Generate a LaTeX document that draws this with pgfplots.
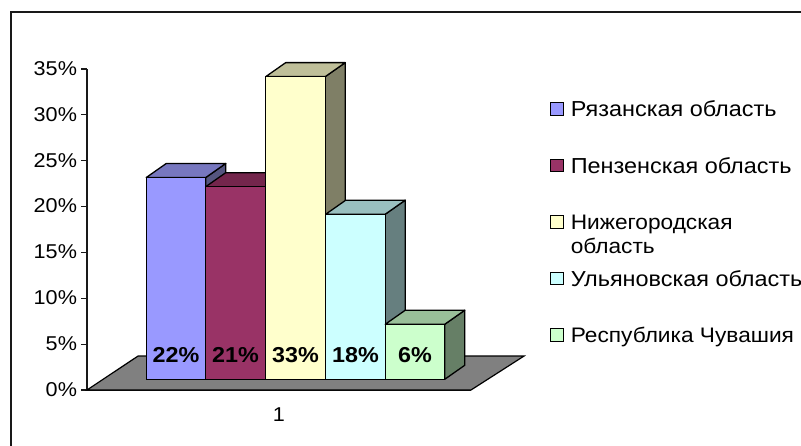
\documentclass[border=0pt]{standalone}
\usepackage{fontspec}
\setmainfont[FakeStretch=1.08]{Liberation Sans}
\usepackage{pgfplots}
\pgfplotsset{compat=1.18}

\definecolor{ryazF}{HTML}{9999FF}\definecolor{ryazT}{HTML}{7777BF}\definecolor{ryazS}{HTML}{55557F}
\definecolor{penzF}{HTML}{993366}\definecolor{penzT}{HTML}{74264C}\definecolor{penzS}{HTML}{4C1933}
\definecolor{nizhF}{HTML}{FFFFCC}\definecolor{nizhT}{HTML}{BFBF99}\definecolor{nizhS}{HTML}{7F7F66}
\definecolor{ulyaF}{HTML}{CCFFFF}\definecolor{ulyaT}{HTML}{99BFBF}\definecolor{ulyaS}{HTML}{667F7F}
\definecolor{chuvF}{HTML}{CCFFCC}\definecolor{chuvT}{HTML}{99BF99}\definecolor{chuvS}{HTML}{667F66}
\definecolor{floorgrey}{HTML}{808080}

\pgfplotsset{swatch/.style={legend image code/.code={%
  \draw[##1,line width=1.2pt] (0pt,-14pt) rectangle (12.5pt,-1.5pt);}}}

% One 3-D column: centre, value, colour stem. Columns stand 10.7pt above the axis line.
\newcommand{\column}[3]{%
  \pgfmathsetmacro\xl{#1-29.75}%
  \pgfmathsetmacro\xr{#1+29.75}%
  \pgfmathsetmacro\xlb{\xl+20}%
  \pgfmathsetmacro\xrb{\xr+20}%
  \pgfmathsetmacro\vb{#2+1.53}%
  \addplot[forget plot,yshift=10.7pt,draw=black,line width=1.3pt,fill=#3S,line join=round]
    coordinates {(\xr,0) (\xrb,1.53) (\xrb,\vb) (\xr,#2)} --cycle;
  \addplot[forget plot,yshift=10.7pt,draw=black,line width=1.3pt,fill=#3T,line join=round]
    coordinates {(\xl,#2) (\xr,#2) (\xrb,\vb) (\xlb,\vb)} --cycle;
  \addplot[ybar,swatch,bar width=59.5pt,yshift=10.7pt,draw=black,line width=1.3pt,fill=#3F]
    coordinates {(#1,#2)};
}

\begin{document}
\begin{tikzpicture}[x=1pt,y=1pt]
\useasboundingbox (0,0) rectangle (801,446);
\draw[line width=1.4pt,black!90] (801,434) -- (11,434) -- (11,0);
\begin{axis}[
  at={(87pt,56pt)},anchor=south west,
  scale only axis,width=384pt,height=321pt,
  xmin=87,xmax=471,ymin=0,ymax=35,
  clip=false,
  axis x line*=bottom,axis y line*=left,
  axis line style={line width=1.2pt,black!90},
  tick style={line width=1.2pt,black!90},
  major tick length=5.5pt,
  tick align=outside,
  ytick={0,5,10,15,20,25,30,35},
  yticklabels={0\%,5\%,10\%,15\%,20\%,25\%,30\%,35\%},
  xtick={279},xticklabels={1},
  x tick style={draw=none},
  extra x ticks={87,471},extra x tick labels={,},
  extra x tick style={tick style={line width=1.2pt,black!90,draw=black!90}},
  tick label style={font=\fontsize{20}{22}\selectfont},
  xticklabel style={yshift=-9pt},
  yticklabel style={xshift=-1pt,yshift=0.5pt},
  legend style={at={(axis description cs:1.206,0.897)},anchor=north west,draw=none,fill=none,
    inner sep=0pt,outer sep=0pt,
    font=\fontsize{21.7}{24}\selectfont,
    nodes={inner sep=0pt,text height=14pt,text depth=4pt,anchor=west},
    /tikz/row sep=37.7pt,/tikz/column sep=7pt},
  legend cell align=left,
]
% floor of the chart
\addplot[forget plot,fill=floorgrey,draw=black,line width=1.2pt]
  coordinates {(87,0) (471,0) (524,3.7) (138,3.7)} --cycle;

\column{176}{22}{ryaz}
\addlegendentry{Рязанская область}
\column{235.5}{21}{penz}
\addlegendentry{Пензенская область}
\column{295.5}{33}{nizh}
\addlegendentry{\smash{\parbox[t]{220pt}{\fontsize{21}{24}\selectfont Нижегородская\\область}}}
\column{355.5}{18}{ulya}
\addlegendentry{Ульяновская область}
\column{415}{6}{chuv}
\addlegendentry{\fontsize{21}{24}\selectfont Республика Чувашия}

% value labels at the foot of each column
\node[font=\fontsize{21.6}{22}\selectfont\bfseries] at (axis cs:176,3.8) {22\%};
\node[font=\fontsize{21.6}{22}\selectfont\bfseries] at (axis cs:235.5,3.8) {21\%};
\node[font=\fontsize{21.6}{22}\selectfont\bfseries] at (axis cs:295.5,3.8) {33\%};
\node[font=\fontsize{21.6}{22}\selectfont\bfseries] at (axis cs:355.5,3.8) {18\%};
\node[font=\fontsize{21.6}{22}\selectfont\bfseries] at (axis cs:415,3.8) {6\%};
\end{axis}
\end{tikzpicture}
\end{document}
